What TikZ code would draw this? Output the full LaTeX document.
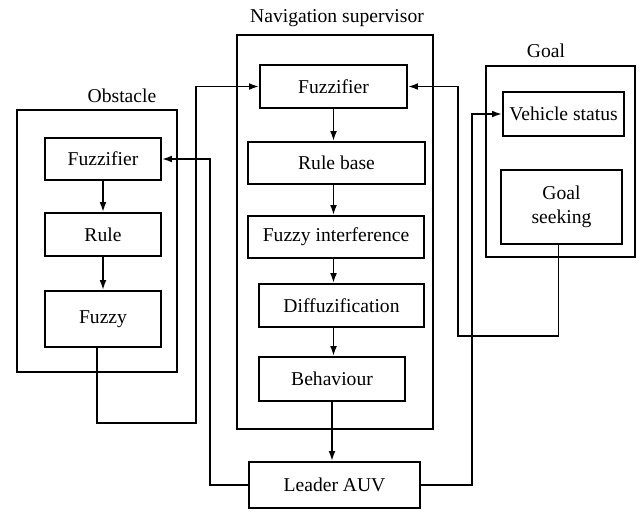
\documentclass[tikz,border=0pt]{standalone}
\usepackage{fontspec}
\setmainfont{Liberation Serif}
\usetikzlibrary{arrows.meta}

\begin{document}
\begin{tikzpicture}[x=0.5pt, y=-0.5pt, line width=0.9pt,
    box/.style={draw, inner sep=0pt, align=center,
      font=\fontsize{9.8}{12}\selectfont},
    frame/.style={draw, inner sep=0pt},
    caption/.style={font=\fontsize{9.8}{12}\selectfont, inner sep=0pt},
    link/.style={-{Latex[length=5pt, width=3.4pt]}}]
    \useasboundingbox (0,0) rectangle (640,511);

    \node[frame, minimum width=80pt, minimum height=131pt] (obstacle) at (97,241) {};
    \node[frame, minimum width=98pt, minimum height=197pt] (nav) at (335,232) {};
    \node[frame, minimum width=74.5pt, minimum height=95.5pt] (goal) at (560.5,161.5) {};
    \node[caption] (obslabel) at (122,96) {Obstacle};
    \node[caption] (navlabel) at (337,18) {Navigation supervisor};
    \node[caption] (goallabel) at (546,51) {Goal};

    \node[box, minimum width=58pt, minimum height=21pt] (obsfuzz) at (103,159) {Fuzzifier};
    \node[box, minimum width=58pt, minimum height=21.5pt] (obsrule) at (103,234.5) {Rule};
    \node[box, minimum width=58pt, minimum height=28pt] (obsfuzzy) at (103,319) {Fuzzy};

    \node[box, minimum width=73.5pt, minimum height=21.5pt] (navfuzz) at (333.5,86.5) {Fuzzifier};
    \node[box, minimum width=88.5pt, minimum height=21pt] (navrule) at (336.5,163) {Rule base};
    \node[box, minimum width=88pt, minimum height=21pt] (navinf) at (336,237) {Fuzzy interference};
    \node[box, minimum width=82.5pt, minimum height=21.5pt] (navdefuzz) at (341.5,305.5) {Diffuzification};
    \node[box, minimum width=73pt, minimum height=22pt] (navbeh) at (332,379) {Behaviour};

    \node[box, minimum width=60.5pt, minimum height=22pt] (vstatus) at (563.5,114) {Vehicle status};
    \node[box, minimum width=60.5pt, minimum height=37pt] (gseek) at (561.5,207) {Goal\\seeking};

    \node[box, minimum width=85.5pt, minimum height=23pt] (leader) at (334.5,485) {Leader AUV};

    \path[link]
    (obsfuzz) edge (obsfuzz |- obsrule.north)
    (obsrule) edge (obsrule |- obsfuzzy.north)
    (navfuzz) edge (navfuzz |- navrule.north)
    (navrule.south -| navfuzz) edge (navfuzz |- navinf.north)
    (navinf.south -| navfuzz) edge (navfuzz |- navdefuzz.north)
    (navdefuzz.south -| navfuzz) edge (navfuzz |- navbeh.north)
    (navbeh) edge (navbeh |- leader.north);

    \draw[link] ([xshift=-3pt]obsfuzzy.south) -- ++(0,75) -| (196,300) |- (navfuzz.west);
    \draw[link] (leader.west) -| (210,300) |- (obsfuzz.east);
    \draw[link] (leader.east) -| (472,300) |- (vstatus.west);
    \draw[link] ([xshift=-1.5pt]gseek.south) -- ++(0,91) -| (458,300) |- (navfuzz.east);
\end{tikzpicture}
\end{document}
